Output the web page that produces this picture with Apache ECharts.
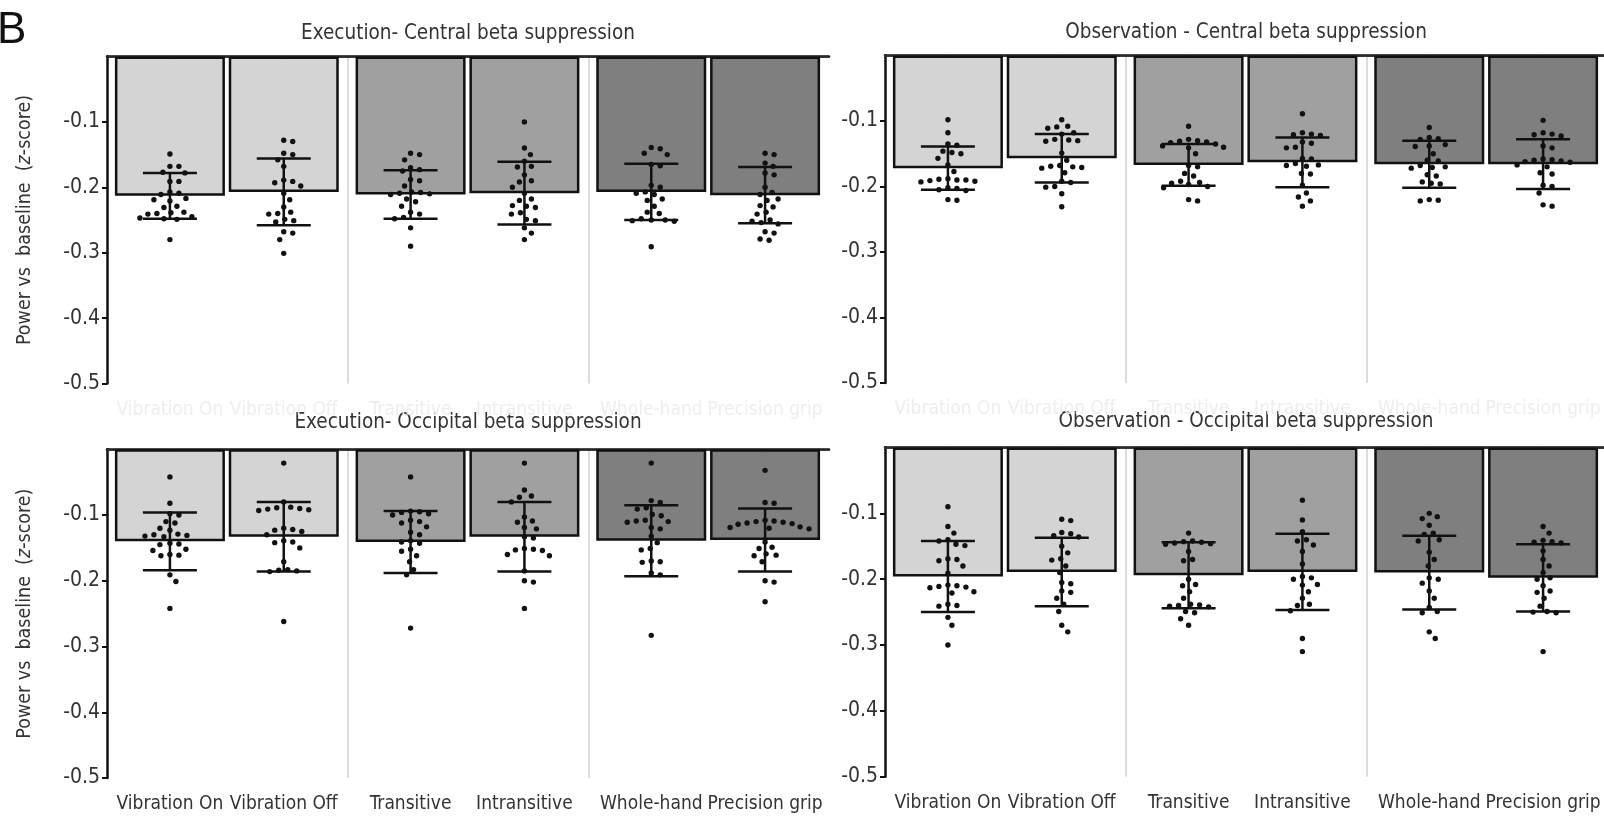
<!DOCTYPE html>
<html><head><meta charset="utf-8">
<script src="https://cdn.jsdelivr.net/npm/echarts@6/dist/echarts.min.js"></script>
<style>html,body{margin:0;padding:0;background:#fff}#c{width:1604px;height:820px}</style>
</head><body><div id="c"></div>
<script>
// ---------------- data ----------------
const categories = [["Vibration On","Vibration Off"],["Transitive","Intransitive"],["Whole-hand","Precision grip"]];
const panelTitles = ["Execution- Central beta suppression","Observation - Central beta suppression","Execution- Occipital beta suppression","Observation - Occipital beta suppression"];
const yTicks = [-0.5,-0.4,-0.3,-0.2,-0.1];

const execCentralMean = [-0.213,-0.207,-0.211,-0.209,-0.207,-0.212];
const execCentralSD   = [0.035,0.051,0.037,0.048,0.043,0.043];
const execCentralPts = [
 [-0.149,-0.168,-0.168,-0.177,-0.178,-0.191,-0.191,-0.207,-0.209,-0.211,-0.217,-0.219,-0.221,-0.229,-0.231,-0.238,-0.239,-0.240,-0.241,-0.245,-0.247,-0.248,-0.249,-0.280],
 [-0.128,-0.130,-0.148,-0.150,-0.158,-0.168,-0.189,-0.191,-0.193,-0.198,-0.209,-0.219,-0.230,-0.238,-0.240,-0.241,-0.249,-0.251,-0.253,-0.268,-0.270,-0.280,-0.301],
 [-0.148,-0.150,-0.158,-0.170,-0.173,-0.175,-0.188,-0.190,-0.198,-0.207,-0.208,-0.209,-0.210,-0.211,-0.218,-0.222,-0.229,-0.238,-0.241,-0.246,-0.248,-0.262,-0.290],
 [-0.100,-0.140,-0.150,-0.160,-0.168,-0.169,-0.181,-0.190,-0.192,-0.200,-0.209,-0.218,-0.220,-0.228,-0.229,-0.231,-0.239,-0.241,-0.249,-0.251,-0.262,-0.270,-0.280],
 [-0.139,-0.141,-0.148,-0.150,-0.165,-0.167,-0.197,-0.200,-0.207,-0.209,-0.211,-0.218,-0.220,-0.229,-0.238,-0.240,-0.248,-0.250,-0.250,-0.251,-0.252,-0.291],
 [-0.148,-0.150,-0.163,-0.168,-0.178,-0.181,-0.200,-0.208,-0.211,-0.218,-0.220,-0.228,-0.230,-0.238,-0.241,-0.250,-0.252,-0.254,-0.256,-0.268,-0.270,-0.279,-0.281]
];

const obsCentralMean = [-0.172,-0.157,-0.167,-0.163,-0.166,-0.166];
const obsCentralSD   = [0.033,0.037,0.032,0.038,0.036,0.038];
const obsCentralPts = [
 [-0.098,-0.118,-0.135,-0.137,-0.146,-0.148,-0.150,-0.157,-0.167,-0.177,-0.188,-0.189,-0.190,-0.190,-0.191,-0.192,-0.193,-0.202,-0.203,-0.205,-0.206,-0.220,-0.221],
 [-0.098,-0.108,-0.109,-0.111,-0.118,-0.120,-0.128,-0.129,-0.130,-0.131,-0.149,-0.160,-0.168,-0.169,-0.170,-0.171,-0.172,-0.179,-0.192,-0.194,-0.200,-0.201,-0.211,-0.231],
 [-0.108,-0.128,-0.130,-0.131,-0.132,-0.133,-0.135,-0.138,-0.140,-0.141,-0.150,-0.168,-0.170,-0.180,-0.184,-0.192,-0.194,-0.195,-0.197,-0.200,-0.202,-0.220,-0.222],
 [-0.089,-0.118,-0.120,-0.121,-0.122,-0.132,-0.134,-0.140,-0.141,-0.157,-0.158,-0.165,-0.167,-0.168,-0.169,-0.180,-0.181,-0.198,-0.210,-0.216,-0.222,-0.230],
 [-0.110,-0.125,-0.127,-0.128,-0.136,-0.138,-0.139,-0.150,-0.160,-0.161,-0.168,-0.170,-0.171,-0.172,-0.182,-0.184,-0.193,-0.195,-0.196,-0.220,-0.221,-0.222],
 [-0.099,-0.118,-0.120,-0.121,-0.123,-0.138,-0.141,-0.158,-0.159,-0.160,-0.161,-0.162,-0.163,-0.167,-0.170,-0.179,-0.181,-0.198,-0.200,-0.210,-0.228,-0.230]
];

const execOccipMean = [-0.140,-0.133,-0.141,-0.133,-0.139,-0.138];
const execOccipSD   = [0.044,0.053,0.047,0.053,0.054,0.048];
const execOccipPts = [
 [-0.042,-0.082,-0.098,-0.100,-0.110,-0.112,-0.120,-0.123,-0.129,-0.130,-0.131,-0.132,-0.133,-0.143,-0.144,-0.145,-0.152,-0.154,-0.160,-0.161,-0.162,-0.191,-0.201,-0.242],
 [-0.021,-0.080,-0.088,-0.089,-0.090,-0.091,-0.092,-0.093,-0.120,-0.122,-0.123,-0.125,-0.130,-0.139,-0.141,-0.142,-0.150,-0.171,-0.183,-0.184,-0.185,-0.186,-0.262],
 [-0.042,-0.094,-0.095,-0.096,-0.098,-0.100,-0.108,-0.110,-0.112,-0.118,-0.126,-0.130,-0.139,-0.141,-0.143,-0.152,-0.155,-0.162,-0.171,-0.183,-0.191,-0.272],
 [-0.021,-0.062,-0.071,-0.073,-0.080,-0.103,-0.109,-0.111,-0.119,-0.121,-0.133,-0.135,-0.151,-0.152,-0.153,-0.154,-0.160,-0.162,-0.185,-0.200,-0.202,-0.242],
 [-0.021,-0.078,-0.081,-0.089,-0.091,-0.099,-0.101,-0.108,-0.109,-0.110,-0.111,-0.119,-0.121,-0.132,-0.142,-0.151,-0.153,-0.170,-0.171,-0.172,-0.188,-0.191,-0.283],
 [-0.032,-0.081,-0.082,-0.108,-0.109,-0.110,-0.111,-0.112,-0.113,-0.114,-0.118,-0.119,-0.120,-0.121,-0.141,-0.149,-0.151,-0.159,-0.161,-0.162,-0.171,-0.200,-0.202,-0.232]
];

const obsOccipMean = [-0.196,-0.189,-0.194,-0.189,-0.190,-0.198];
const obsOccipSD   = [0.054,0.052,0.050,0.058,0.056,0.051];
const obsOccipPts = [
 [-0.090,-0.120,-0.130,-0.140,-0.142,-0.147,-0.149,-0.169,-0.170,-0.172,-0.180,-0.191,-0.209,-0.210,-0.211,-0.212,-0.213,-0.219,-0.221,-0.238,-0.240,-0.241,-0.258,-0.270,-0.300],
 [-0.109,-0.111,-0.129,-0.131,-0.134,-0.136,-0.150,-0.160,-0.169,-0.171,-0.180,-0.190,-0.205,-0.207,-0.218,-0.220,-0.229,-0.238,-0.249,-0.270,-0.280],
 [-0.130,-0.142,-0.143,-0.144,-0.145,-0.146,-0.147,-0.158,-0.170,-0.172,-0.200,-0.208,-0.210,-0.219,-0.229,-0.238,-0.239,-0.240,-0.241,-0.242,-0.249,-0.251,-0.260,-0.270],
 [-0.080,-0.110,-0.128,-0.140,-0.142,-0.148,-0.158,-0.177,-0.196,-0.198,-0.200,-0.208,-0.209,-0.219,-0.229,-0.238,-0.240,-0.248,-0.290,-0.310],
 [-0.100,-0.105,-0.108,-0.118,-0.130,-0.132,-0.140,-0.142,-0.159,-0.170,-0.180,-0.198,-0.200,-0.206,-0.218,-0.229,-0.243,-0.249,-0.251,-0.280,-0.290],
 [-0.120,-0.130,-0.141,-0.143,-0.144,-0.145,-0.157,-0.170,-0.180,-0.190,-0.198,-0.200,-0.210,-0.218,-0.220,-0.229,-0.241,-0.249,-0.250,-0.251,-0.310]
];

// ---------------- layout / style ----------------
const FONT = "'DejaVu Sans Condensed','Liberation Sans',sans-serif";
const TXT = '#333';
const shades = ['#d4d4d4','#a0a0a0','#7f7f7f'];
const W = 722;
const panels = [
  {left:107, top:56.5, h:327, mean:execCentralMean, sd:execCentralSD, pts:execCentralPts, yName:true, faint:true, tGap:12},
  {left:885, top:55.5, h:327.5, mean:obsCentralMean, sd:obsCentralSD, pts:obsCentralPts, yName:false, faint:true, tGap:12},
  {left:107, top:449.3, h:328.7, mean:execOccipMean, sd:execOccipSD, pts:execOccipPts, yName:true, faint:false, tGap:16},
  {left:885, top:447.5, h:329.2, mean:obsOccipMean, sd:obsOccipSD, pts:obsOccipPts, yName:false, faint:false, tGap:15}
];

function swarm(vals, pxPerUnit, d){
  const order = vals.map((v,i)=>i).sort((a,b)=>vals[b]-vals[a]);
  const placed = []; const offs = new Array(vals.length);
  for (const i of order){
    const y = -vals[i]*pxPerUnit;
    let best = 0;
    for (let k=0;k<400;k++){
      const cand = (k%2===1?1:-1)*Math.ceil(k/2);
      if (placed.every(p => (p.x-cand)*(p.x-cand)+(p.y-y)*(p.y-y) >= d*d)) { best=cand; break; }
    }
    offs[i]=best; placed.push({x:best,y});
  }
  return offs;
}

const grid=[], xAxis=[], yAxis=[], series=[];
panels.forEach((P,pi)=>{
  const g0 = grid.length;
  grid.push({left:P.left, top:P.top, width:W, height:P.h, containLabel:false, outerBoundsMode:'none'});
  xAxis.push({gridIndex:g0, type:'value', min:0, max:3, interval:1, position:'bottom',
    axisLine:{show:true, lineStyle:{color:'#111', width:2.5}}, axisTick:{show:false}, axisLabel:{show:false},
    splitLine:{show:true, showMinLine:false, showMaxLine:false, lineStyle:{color:'#dcdcdc', width:2}}});
  xAxis.push({gridIndex:g0, type:'value', min:0, max:3, interval:1, position:'top',
    axisLine:{show:true, lineStyle:{color:'#333', width:1.5}}, axisTick:{show:false}, axisLabel:{show:false}, splitLine:{show:false},
    name: panelTitles[pi], nameLocation:'middle', nameGap:P.tGap,
    nameTextStyle:{fontFamily:FONT, fontSize:20.5, color:TXT}});
  yAxis.push({gridIndex:g0, type:'value', min:-0.5, max:0, interval:0.1,
    axisLine:{show:true, lineStyle:{color:'#111', width:2.5}},
    axisTick:{show:true, length:5, customValues:yTicks, lineStyle:{color:'#111', width:2}},
    axisLabel:{customValues:yTicks, formatter:v=>v.toFixed(1), margin:7, fontFamily:FONT, fontSize:21, color:TXT},
    splitLine:{show:false},
    name: P.yName ? 'Power vs  baseline  ({i|z}-score)' : '', nameLocation:'middle', nameGap:72, nameRotate:90,
    nameTextStyle:{fontFamily:FONT, fontSize:19.5, color:TXT, rich:{i:{fontStyle:'italic', fontFamily:FONT, fontSize:19.5, color:TXT}}}});
  for (let s=0;s<3;s++){
    const g = grid.length;
    grid.push({left:P.left + s*W/3 + 6, top:P.top, width:W/3 - 13, height:P.h, containLabel:false, outerBoundsMode:'none'});
    const xi = xAxis.length, yi = yAxis.length;
    xAxis.push({gridIndex:g, type:'category', data:categories[s], boundaryGap:true,
      axisLine:{show:false}, axisTick:{show:true, alignWithLabel:true, length:6, lineStyle:{color:'#111', width:2}},
      axisLabel:{show:true, interval:0, margin:17, fontFamily:FONT, fontSize:19, color: P.faint ? '#eeeeee' : TXT}});
    yAxis.push({gridIndex:g, type:'value', min:-0.5, max:0, show:false});
    const m = P.mean.slice(2*s, 2*s+2), sd = P.sd.slice(2*s, 2*s+2);
    series.push({type:'bar', xAxisIndex:xi, yAxisIndex:yi, data:m, barWidth:110, silent:true,
      itemStyle:{color:shades[s], borderColor:'#111', borderWidth:2.5}, z:2});
    series.push({type:'custom', xAxisIndex:xi, yAxisIndex:yi, silent:true, z:3,
      data: m.map((v,c)=>[c, v, sd[c]]), encode:{x:0, y:1},
      renderItem:(params, api)=>{
        const c=api.value(0), mv=api.value(1), e=api.value(2);
        const a=api.coord([c, mv+e]), b=api.coord([c, mv-e]); const hw=27;
        const st={stroke:'#111', lineWidth:2.5};
        return {type:'group', children:[
          {type:'line', shape:{x1:a[0],y1:a[1],x2:b[0],y2:b[1]}, style:st},
          {type:'line', shape:{x1:a[0]-hw,y1:a[1],x2:a[0]+hw,y2:a[1]}, style:st},
          {type:'line', shape:{x1:b[0]-hw,y1:b[1],x2:b[0]+hw,y2:b[1]}, style:st}]};
      }});
    const ppu = P.h/0.5;
    const pdata = [];
    for (let c=0;c<2;c++){
      const vals = P.pts[2*s+c];
      const offs = swarm(vals, ppu, 8.5);
      vals.forEach((v,k)=>pdata.push([c, v, offs[k]]));
    }
    series.push({type:'custom', xAxisIndex:xi, yAxisIndex:yi, silent:true, z:4,
      data:pdata, encode:{x:0, y:1},
      renderItem:(params, api)=>{
        const p=api.coord([api.value(0), api.value(1)]);
        return {type:'circle', shape:{cx:p[0]+api.value(2), cy:p[1], r:2.7}, style:{fill:'#111'}};
      }});
  }
});

const chart = echarts.init(document.getElementById('c'), null, {renderer:'canvas'});
chart.setOption({
  animation:false, backgroundColor:'#fff',
  grid, xAxis, yAxis, series,
  graphic:[
    {type:'text', left:-3, top:9, style:{text:'B', font:"44px 'Liberation Sans',sans-serif", fill:'#111'}}
  ]
});
</script></body></html>
